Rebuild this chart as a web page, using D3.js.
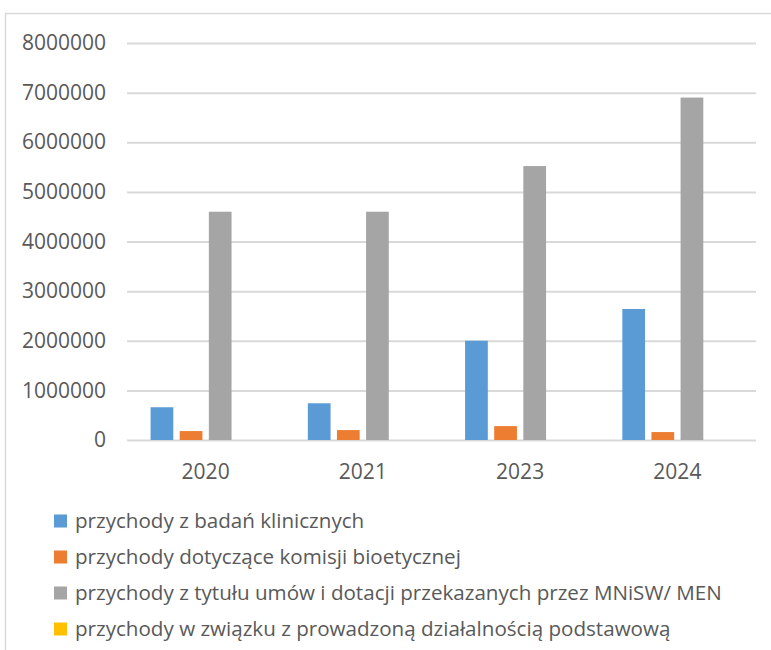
<!DOCTYPE html>
<html><head><meta charset="utf-8">
<script src="https://cdn.jsdelivr.net/npm/d3@7"></script>
<style>body{margin:0;background:#fff}svg{display:block}</style>
</head><body>
<svg id="c" width="771" height="650"></svg>
<script>
const categories = ["2020", "2021", "2023", "2024"];
const seriesNames = [
  "przychody z badań klinicznych",
  "przychody dotyczące komisji bioetycznej",
  "przychody z tytułu umów i dotacji przekazanych przez MNiSW/ MEN",
  "przychody w związku z prowadzoną działalnością podstawową"
];
const badania = [660000, 740000, 2000000, 2640000];
const komisja = [180000, 200000, 280000, 160000];
const mnisw = [4600000, 4600000, 5520000, 6900000];
const dzialalnosc = [0, 0, 0, 0];
const yTicks = [0, 1000000, 2000000, 3000000, 4000000, 5000000, 6000000, 7000000, 8000000];
const colors = ["#5B9BD5", "#ED7D31", "#A5A5A5", "#FFC000"];

const series = [badania, komisja, mnisw, dzialalnosc];
const svg = d3.select("#c");
const font = "'Open Sans', sans-serif";

// outer border
svg.append("rect").attr("x", 5.5).attr("y", 13.5).attr("width", 800).attr("height", 700)
  .attr("fill", "none").attr("stroke", "#D9D9D9").attr("stroke-width", 1.5);

const x0 = d3.scaleBand().domain(categories).range([127, 756]).paddingInner(0.3).paddingOuter(0.15);
const x1 = d3.scaleBand().domain(d3.range(4)).range([0, x0.bandwidth()]).paddingInner(0.22);
const y = d3.scaleLinear().domain([0, 8000000]).range([440, 43]);

// gridlines
const gAxisY = svg.append("g").attr("transform", "translate(127,0)")
  .call(d3.axisLeft(y).tickValues(yTicks).tickSize(-629).tickFormat(d3.format("d")).tickPadding(21));
gAxisY.select(".domain").remove();
gAxisY.selectAll(".tick line").attr("stroke", "#D9D9D9").attr("stroke-width", 2);
gAxisY.selectAll(".tick text").attr("fill", "#595959").style("font-family", font).style("font-size", "21px");

// bars
const groups = svg.append("g").selectAll("g").data(categories).join("g")
  .attr("transform", d => `translate(${x0(d)},0)`);
groups.selectAll("rect").data((d, i) => series.map((s, k) => ({k, v: s[i]}))).join("rect")
  .attr("x", d => x1(d.k)).attr("width", x1.bandwidth())
  .attr("y", d => y(d.v)).attr("height", d => y(0) - y(d.v))
  .attr("fill", d => colors[d.k]);

// x axis labels
const gAxisX = svg.append("g").attr("transform", "translate(0,440)")
  .call(d3.axisBottom(x0).tickSize(0).tickPadding(24));
gAxisX.select(".domain").remove();
gAxisX.selectAll(".tick text").attr("fill", "#595959").style("font-family", font).style("font-size", "21px");

// legend
const leg = svg.append("g").selectAll("g").data(seriesNames).join("g")
  .attr("transform", (d, i) => `translate(54,${521 + i * 36})`);
leg.append("rect").attr("x", 0).attr("y", -6.5).attr("width", 13).attr("height", 13)
  .attr("fill", (d, i) => colors[i]);
leg.append("text").attr("x", 21).attr("y", 0).attr("dy", "0.35em")
  .attr("fill", "#595959").style("font-family", font).style("font-size", "20.6px").text(d => d);
</script>
</body></html>
